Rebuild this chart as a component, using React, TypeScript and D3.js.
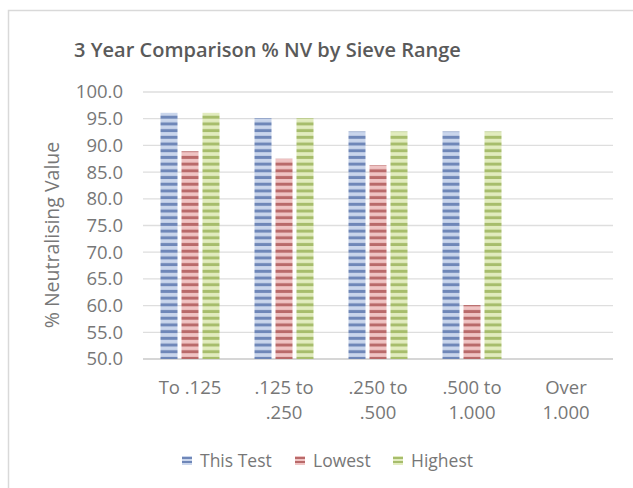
import React from "react";
import * as d3 from "d3";

const categories: string[][] = [["To .125"], [".125 to", ".250"], [".250 to", ".500"], [".500 to", "1.000"], ["Over", "1.000"]];
const seriesNames = ["This Test", "Lowest", "Highest"];
const thisTest: (number | null)[] = [96.1, 95.1, 92.6, 92.6, null];
const lowest: (number | null)[] = [88.9, 87.5, 86.3, 60.1, null];
const highest: (number | null)[] = [96.1, 95.1, 92.6, 92.6, null];
const yTicks = [50, 55, 60, 65, 70, 75, 80, 85, 90, 95, 100];
const title = "3 Year Comparison % NV by Sieve Range";
const yTitle = "% Neutralising Value";

const palette = [
  { dark: "#6f87b8", light: "#cad6ec" },
  { dark: "#b96a6a", light: "#f0c4c4" },
  { dark: "#a7bd6c", light: "#e2ecbf" },
];

export default function App() {
  const W = 633, H = 488;
  const left = 143, right = 613, top = 92, bottom = 359;
  const catKeys = categories.map((c) => c.join(" "));
  const x0 = d3.scaleBand<string>().domain(catKeys).range([left, right]).paddingInner(0).paddingOuter(0);
  const x1 = d3.scaleBand<string>().domain(seriesNames).range([17.5, x0.bandwidth() - 17.5]).paddingInner(0.19).paddingOuter(0);
  const y = d3.scaleLinear().domain([50, 100]).range([bottom, top]);
  const allSeries = [thisTest, lowest, highest];
  const font = "'Open Sans', sans-serif";
  const textColor = "#777";

  return (
    <svg width={W} height={H} style={{ position: "absolute", left: 0, top: 0, background: "#fff" }}>
      <defs>
        {palette.map((p, i) => (
          <pattern key={i} id={`pat${i}`} patternUnits="userSpaceOnUse" width={8} height={6.7}>
            <rect x={0} y={0} width={8} height={6.7} fill={p.light} />
            <rect x={0} y={1.8} width={8} height={3} fill={p.dark} />
          </pattern>
        ))}
        {palette.map((p, i) => (
          <pattern key={"l" + i} id={`lpat${i}`} patternUnits="userSpaceOnUse" width={8} height={4}>
            <rect x={0} y={0} width={8} height={4} fill={p.light} />
            <rect x={0} y={1} width={8} height={2} fill={p.dark} />
          </pattern>
        ))}
      </defs>
      <rect x={0} y={0} width={W} height={H} fill="#fff" />
      <rect x={8.5} y={10.5} width={700} height={600} fill="none" stroke="#d9d9d9" strokeWidth={1.5} />
      <text x={267.5} y={57} textAnchor="middle" fontFamily={font} fontWeight={600} fontSize={20} fill="#5a5a5a">
        {title}
      </text>
      {yTicks.map((t) => (
        <g key={t}>
          <line x1={left} x2={right} y1={y(t)} y2={y(t)} stroke={t === 50 ? "#c8c8c8" : "#dedede"} strokeWidth={1.3} />
          <text x={123} y={y(t)} dy="0.35em" textAnchor="end" fontFamily={font} fontSize={18.5} fill={textColor}>
            {t.toFixed(1)}
          </text>
        </g>
      ))}
      <text transform={`translate(52,235) rotate(-90)`} textAnchor="middle" dy="0.35em" fontFamily={font} fontSize={19.5} fill={textColor}>
        {yTitle}
      </text>
      {catKeys.map((c, ci) => (
        <g key={c} transform={`translate(${x0(c)},0)`}>
          {seriesNames.map((s, si) => {
            const v = allSeries[si][ci];
            if (v == null) return null;
            return (
              <rect key={s} x={x1(s)} y={y(v)} width={x1.bandwidth()} height={bottom - y(v)} fill={`url(#pat${si})`} />
            );
          })}
          {categories[ci].map((line, li) => (
            <text key={li} x={x0.bandwidth() / 2} y={388 + li * 25} dy="0.35em" textAnchor="middle" fontFamily={font} fontSize={18.5} fill={textColor}>
              {line}
            </text>
          ))}
        </g>
      ))}
      {seriesNames.map((s, si) => {
        const lx = [182, 295, 393][si];
        return (
          <g key={s}>
            <rect x={lx} y={456} width={10} height={9} fill={`url(#lpat${si})`} />
            <text x={lx + 18} y={461} dy="0.35em" fontFamily={font} fontSize={17.5} fill={textColor}>
              {s}
            </text>
          </g>
        );
      })}
    </svg>
  );
}
